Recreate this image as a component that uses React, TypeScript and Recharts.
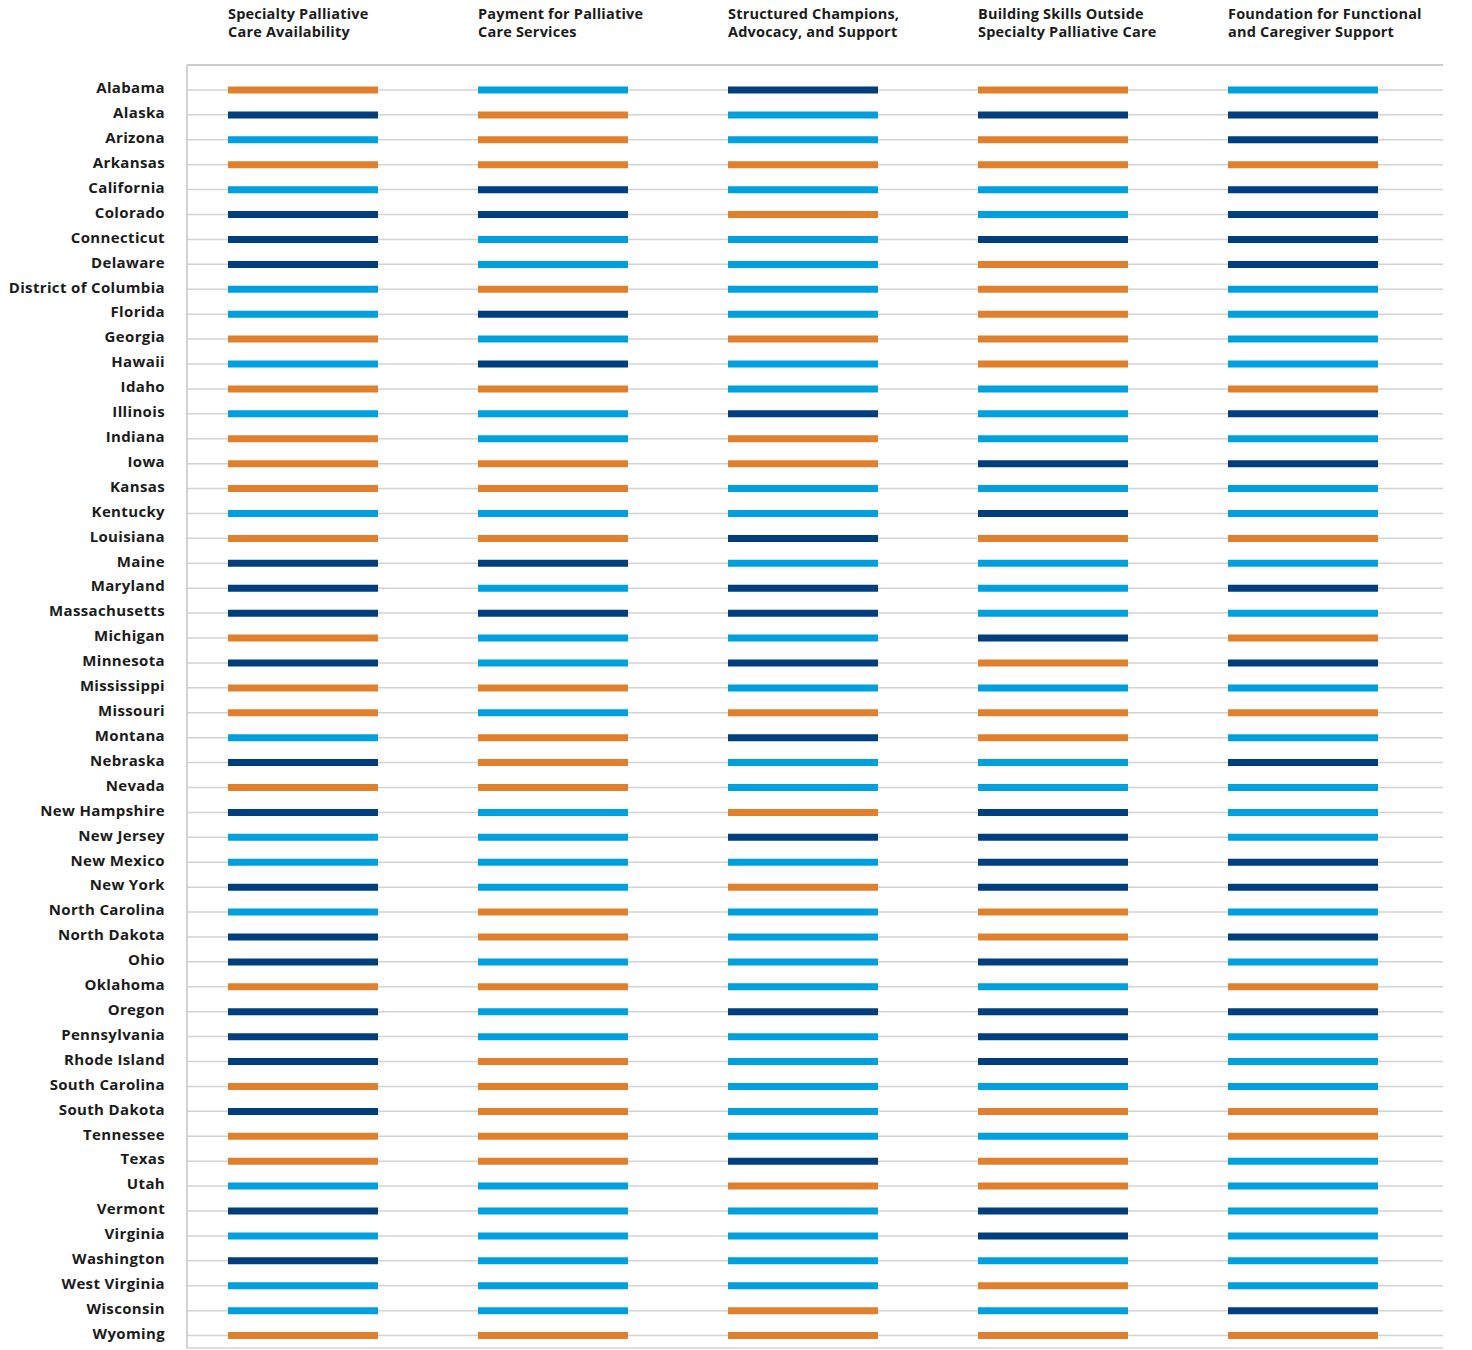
import { BarChart, Bar, XAxis, YAxis, CartesianGrid, Cell } from "recharts"

const states = [
  "Alabama", "Alaska", "Arizona", "Arkansas", "California", "Colorado", "Connecticut", "Delaware",
  "District of Columbia", "Florida", "Georgia", "Hawaii", "Idaho", "Illinois", "Indiana", "Iowa",
  "Kansas", "Kentucky", "Louisiana", "Maine", "Maryland", "Massachusetts", "Michigan", "Minnesota",
  "Mississippi", "Missouri", "Montana", "Nebraska", "Nevada", "New Hampshire", "New Jersey",
  "New Mexico", "New York", "North Carolina", "North Dakota", "Ohio", "Oklahoma", "Oregon",
  "Pennsylvania", "Rhode Island", "South Carolina", "South Dakota", "Tennessee", "Texas", "Utah",
  "Vermont", "Virginia", "Washington", "West Virginia", "Wisconsin", "Wyoming",
]

const headers = [
  ["Specialty Palliative", "Care Availability"],
  ["Payment for Palliative", "Care Services"],
  ["Structured Champions,", "Advocacy, and Support"],
  ["Building Skills Outside", "Specialty Palliative Care"],
  ["Foundation for Functional", "and Caregiver Support"],
]

// O = orange, L = light blue, D = dark blue
const specialty = [
  "O", "D", "L", "O", "L", "D", "D", "D", "L", "L", "O", "L", "O", "L", "O", "O", "O",
  "L", "O", "D", "D", "D", "O", "D", "O", "O", "L", "D", "O", "D", "L", "L", "D", "L",
  "D", "D", "O", "D", "D", "D", "O", "D", "O", "O", "L", "D", "L", "D", "L", "L", "O",
]
const payment = [
  "L", "O", "O", "O", "D", "D", "L", "L", "O", "D", "L", "D", "O", "L", "L", "O", "O",
  "L", "O", "D", "L", "D", "L", "L", "O", "L", "O", "O", "O", "L", "L", "L", "L", "O",
  "O", "L", "O", "L", "L", "O", "O", "O", "O", "O", "L", "L", "L", "L", "L", "L", "O",
]
const champions = [
  "D", "L", "L", "O", "L", "O", "L", "L", "L", "L", "O", "L", "L", "D", "O", "O", "L",
  "L", "D", "L", "D", "D", "L", "D", "L", "O", "D", "L", "L", "O", "D", "L", "O", "L",
  "L", "L", "L", "D", "L", "L", "L", "L", "L", "D", "O", "L", "L", "L", "L", "O", "O",
]
const skills = [
  "O", "D", "O", "O", "L", "L", "D", "O", "O", "O", "O", "O", "L", "L", "L", "D", "L",
  "D", "O", "L", "L", "L", "D", "O", "L", "O", "O", "L", "L", "D", "D", "D", "D", "O",
  "O", "D", "L", "D", "D", "D", "L", "O", "L", "O", "O", "D", "D", "L", "O", "L", "O",
]
const foundation = [
  "L", "D", "D", "O", "D", "D", "D", "D", "L", "L", "L", "L", "O", "D", "L", "D", "L",
  "L", "O", "L", "D", "L", "O", "D", "L", "O", "L", "D", "L", "L", "L", "D", "D", "L",
  "D", "L", "O", "D", "L", "L", "L", "O", "O", "L", "L", "L", "L", "L", "L", "D", "O",
]

const columns = ["specialty", "payment", "champions", "skills", "foundation"]
const ratings = [specialty, payment, champions, skills, foundation]

const colors: Record<string, string> = { O: "#E0802C", L: "#00A0DF", D: "#003E7E" }

const data = states.map((state, i) => {
  const row: Record<string, string> = { state }
  columns.forEach((c, j) => (row[c] = ratings[j][i]))
  return row
})

const barStart = 0.164
const barLen = 0.6
const font = "'Open Sans', Lato, sans-serif"

function HeaderTick({ x, y, index }: any) {
  const lines = headers[index] || ["", ""]
  return (
    <text x={x} y={y} textAnchor="start" fill="#1b1b1b" fontSize={14.5} fontWeight={700} fontFamily={font} letterSpacing={0.2}>
      <tspan x={x} dy={-46}>{lines[0]}</tspan>
      <tspan x={x} dy={18}>{lines[1]}</tspan>
    </text>
  )
}

function StateTick({ x, y, payload }: any) {
  return (
    <text x={x} y={y} dy={3.3} textAnchor="end" fill="#1b1b1b" fontSize={15} fontWeight={700} fontFamily={font} letterSpacing={0.35}>
      {payload.value}
    </text>
  )
}

export default function App() {
  return (
    <div style={{ position: "absolute", left: 0, top: 0, width: 1472, height: 1350, background: "#fff" }}>
      <BarChart
        width={1472}
        height={1350}
        data={data}
        layout="vertical"
        barGap={-7}
        margin={{ top: 0, right: 29, bottom: 2, left: 0 }}
      >
        <CartesianGrid horizontal vertical={false} stroke="#d3d3d3" strokeWidth={1.5} />
        <XAxis
          type="number"
          orientation="top"
          domain={[0, 5.024]}
          ticks={columns.map((_, i) => i + barStart)}
          height={65}
          tickLine={false}
          tickSize={0}
          tickMargin={0}
          axisLine={{ stroke: "#c4c4c4", strokeWidth: 1.5 }}
          tick={<HeaderTick />}
          interval={0}
        />
        <YAxis
          type="category"
          dataKey="state"
          width={187}
          interval={0}
          padding={{ top: 12.5, bottom: 0 }}
          tickLine={false}
          tickSize={0}
          tickMargin={22}
          axisLine={{ stroke: "#c4c4c4", strokeWidth: 1.5 }}
          tick={<StateTick />}
        />
        {columns.map((c, j) => (
          <Bar
            key={c}
            dataKey={() => [j + barStart, j + barStart + barLen]}
            barSize={7}
            isAnimationActive={false}
          >
            {data.map((row, i) => (
              <Cell key={i} fill={colors[row[c]]} />
            ))}
          </Bar>
        ))}
      </BarChart>
    </div>
  )
}
